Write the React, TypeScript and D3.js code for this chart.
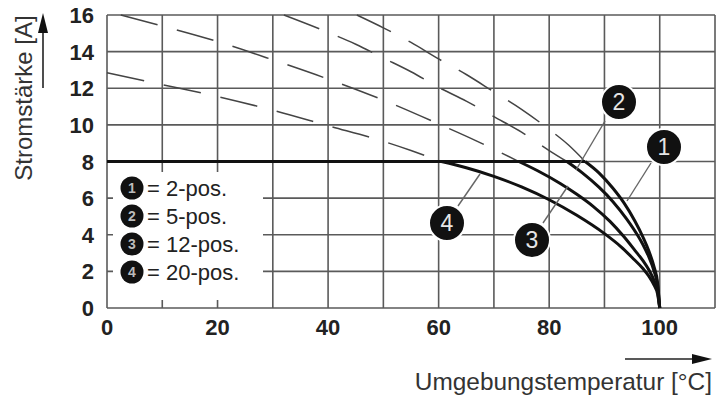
import React from "react";
import * as d3 from "d3";

// Derating curves: ambient temperature [°C] -> current [A]
const ratedCurrent = 8;

// Solid curves below the rated current limit
const solid2pos: [number, number][] = [
  [86.5, 8], [89, 7.38], [91.5, 6.55], [93.5, 5.75], [95.5, 4.75], [97, 3.85],
  [98, 3.14], [99, 2.22], [99.6, 1.4], [100, 0],
];
const solid5pos: [number, number][] = [
  [83.2, 8], [86, 7.38], [89, 6.6], [91.5, 5.82], [94, 4.87], [96, 3.97],
  [97, 3.44], [98, 2.81], [99, 1.99], [99.6, 1.26], [100, 0],
];
const solid12pos: [number, number][] = [
  [74.5, 8], [78, 7.48], [82, 6.8], [85, 6.21], [88, 5.54], [91, 4.73],
  [93.5, 3.9], [95.5, 3.15], [97, 2.57], [98, 2.1], [99, 1.49], [99.6, 0.94], [100, 0],
];
const solid20pos: [number, number][] = [
  [60.5, 8], [65, 7.66], [70, 7.19], [75, 6.61], [80, 5.91], [85, 5.06],
  [90, 4.06], [93, 3.34], [95, 2.76], [97, 2.14], [98, 1.75], [99, 1.23], [99.6, 0.78], [100, 0],
];

// Dashed continuations above the rated current
const dash2pos: [number, number][] = [
  [45.2, 16], [50, 15.3], [55, 14.5], [60, 13.6], [65, 12.75], [70, 11.8],
  [75, 10.85], [80, 9.75], [83.5, 8.9], [86.5, 8],
];
const dash5pos: [number, number][] = [
  [32, 16], [40, 15.05], [45, 14.4], [50, 13.65], [55, 12.9], [60, 12.05],
  [65, 11.3], [70, 10.45], [75, 9.6], [80, 8.6], [83.2, 8],
];
const dash12pos: [number, number][] = [
  [2.5, 16], [10, 15.4], [20, 14.55], [30, 13.55], [40, 12.5], [50, 11.35],
  [60, 10.05], [67, 9.1], [74.5, 8],
];
const dash20pos: [number, number][] = [
  [0, 12.85], [10, 12.2], [20, 11.55], [30, 10.8], [40, 9.95], [50, 9.1],
  [55, 8.6], [60.5, 8],
];

const xGrid = [0, 10, 20, 30, 40, 50, 60, 70, 80, 90, 100, 110];
const yGrid = [0, 2, 4, 6, 8, 10, 12, 14, 16];
const xTickLabels = [0, 20, 40, 60, 80, 100];
const yTickLabels = [0, 2, 4, 6, 8, 10, 12, 14, 16];

const legendIds = ["1", "2", "3", "4"];
const legendLabels = ["2-pos.", "5-pos.", "12-pos.", "20-pos."];

const W = 720;
const H = 397;
const FONT = "'Liberation Sans', Arial, Helvetica, sans-serif";

const x = d3.scaleLinear().domain([0, 110]).range([107, 715]);
const y = d3.scaleLinear().domain([0, 16]).range([308, 15]);

const line = d3
  .line<[number, number]>()
  .x((d) => x(d[0]))
  .y((d) => y(d[1]))
  .curve(d3.curveMonotoneX);

// Callout badges: circle centre and leader line target on the curve
const callouts = [
  { id: "2", cx: 619, cy: 102, from: [605, 121], to: [576, 170] },
  { id: "1", cx: 664, cy: 147, from: [651, 163], to: [627, 201] },
  { id: "4", cx: 447, cy: 223, from: [458, 206], to: [480, 174] },
  { id: "3", cx: 532, cy: 240, from: [543, 223], to: [568, 186] },
];

// Legend box blanks out the grid behind it
const legendBox = { x0: 113, x1: 263, y0: 172, y1: 300 };

export default function App() {
  const gridColor = "#5a5a5a";
  return (
    <svg
      width={W}
      height={H}
      viewBox={`0 0 ${W} ${H}`}
      style={{ position: "absolute", left: 0, top: 0, background: "#fff" }}
    >
      <rect x={0} y={0} width={W} height={H} fill="#fff" />

      {/* grid */}
      <g stroke={gridColor} strokeWidth={1.6}>
        {xGrid.map((v) => (
          <line key={"gx" + v} x1={x(v)} x2={x(v)} y1={y(0)} y2={y(16)} />
        ))}
        {yGrid.map((v) => (
          <line key={"gy" + v} x1={x(0)} x2={x(110)} y1={y(v)} y2={y(v)} />
        ))}
      </g>

      {/* legend background */}
      <rect
        x={legendBox.x0}
        y={legendBox.y0}
        width={legendBox.x1 - legendBox.x0}
        height={legendBox.y1 - legendBox.y0}
        fill="#fff"
      />

      {/* dashed extensions */}
      <g fill="none" stroke="#444" strokeWidth={1.5} strokeDasharray="38 20">
        {[dash2pos, dash5pos, dash12pos, dash20pos].map((d, i) => (
          <path key={"d" + i} d={line(d) ?? ""} />
        ))}
      </g>

      {/* rated current limit */}
      <line
        x1={x(0)}
        x2={x(solid2pos[0][0])}
        y1={y(ratedCurrent)}
        y2={y(ratedCurrent)}
        stroke="#111"
        strokeWidth={3}
      />

      {/* derating curves */}
      <g fill="none" stroke="#111" strokeWidth={3}>
        {[solid2pos, solid5pos, solid12pos, solid20pos].map((d, i) => (
          <path key={"s" + i} d={line(d) ?? ""} />
        ))}
      </g>

      {/* callouts */}
      {callouts.map((c) => (
        <g key={"c" + c.id}>
          <line
            x1={c.from[0]}
            y1={c.from[1]}
            x2={c.to[0]}
            y2={c.to[1]}
            stroke="#666"
            strokeWidth={1.4}
          />
          <circle cx={c.cx} cy={c.cy} r={18} fill="#111" stroke="#fff" strokeWidth={2} />
          <text
            x={c.cx}
            y={c.cy + 8}
            textAnchor="middle"
            fontFamily={FONT}
            fontSize={23}
            fill="#e6e6e6"
          >
            {c.id}
          </text>
        </g>
      ))}

      {/* legend */}
      {legendIds.map((id, i) => {
        const cy = 188 + i * 28;
        return (
          <g key={"l" + id}>
            <circle cx={132} cy={cy} r={11.5} fill="#111" />
            <text
              x={132}
              y={cy + 5}
              textAnchor="middle"
              fontFamily={FONT}
              fontSize={14}
              fontWeight="bold"
              fill="#bbb"
            >
              {id}
            </text>
            <text x={147} y={cy + 8} fontFamily={FONT} fontSize={22} fill="#222">
              {"= " + legendLabels[i]}
            </text>
          </g>
        );
      })}

      {/* tick labels */}
      <g fontFamily={FONT} fontSize={22} fontWeight="bold" fill="#222">
        {yTickLabels.map((v) => (
          <text key={"yt" + v} x={94} y={y(v) + 8} textAnchor="end">
            {v}
          </text>
        ))}
        {xTickLabels.map((v) => (
          <text key={"xt" + v} x={x(v)} y={335} textAnchor="middle">
            {v}
          </text>
        ))}
      </g>

      {/* axis titles with arrows */}
      <text
        transform="translate(32,98) rotate(-90)"
        textAnchor="middle"
        fontFamily={FONT}
        fontSize={24}
        fill="#333"
      >
        Stromstärke [A]
      </text>
      <line x1={43} x2={43} y1={88} y2={30} stroke="#222" strokeWidth={1.6} />
      <path d="M43,13 L38,33 L48,33 Z" fill="#111" />

      <text x={712} y={390} textAnchor="end" fontFamily={FONT} fontSize={24.4} fill="#333">
        Umgebungstemperatur [°C]
      </text>
      <line x1={625} x2={695} y1={359} y2={359} stroke="#222" strokeWidth={1.6} />
      <path d="M712,359 L692,354 L692,364 Z" fill="#111" />
    </svg>
  );
}
